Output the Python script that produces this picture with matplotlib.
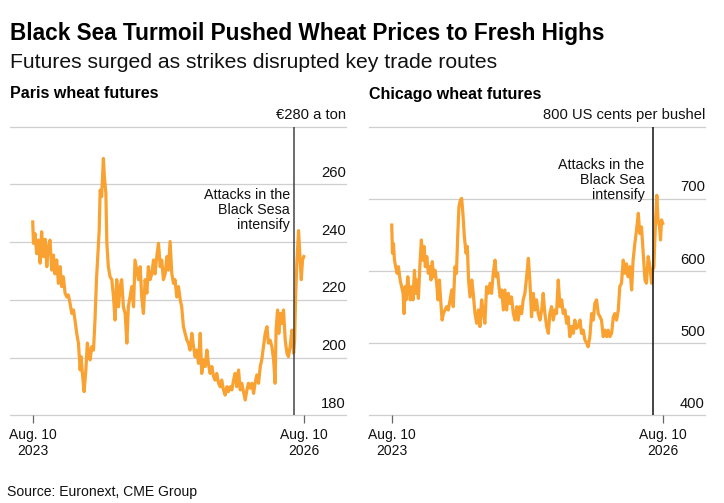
import matplotlib
matplotlib.use('Agg')
import matplotlib.pyplot as plt
import matplotlib.transforms as mtransforms
import pandas as pd

plt.rcParams['font.family'] = ['Liberation Sans', 'DejaVu Sans']

title = "Black Sea Turmoil Pushed Wheat Prices to Fresh Highs"
subtitle = "Futures surged as strikes disrupted key trade routes"
source = "Source: Euronext, CME Group"
start_date = "2023-08-10"
event_date = "2026-07-04"
tick_dates = ["2023-08-10", "2026-08-10"]
tick_labels = ["Aug. 10\n2023", "Aug. 10\n2026"]

paris_title = "Paris wheat futures"
paris_days = [0, 3, 9, 16, 23, 30, 36, 43, 50, 57, 63, 70, 77, 84, 90, 97, 104, 111, 117, 124,
              131, 138, 144, 151, 158, 165, 171, 178, 185, 192, 196, 201, 208, 215, 221, 227, 232,
              239, 246, 252, 258, 263, 269, 273, 279, 286, 290, 296, 300, 306, 313, 320, 327, 333,
              340, 347, 354, 360, 367, 374, 381, 387, 394, 401, 408, 414, 421, 428, 435, 441, 448,
              455, 462, 468, 475, 482, 489, 495, 502, 509, 516, 522, 529, 536, 543, 549, 556, 563,
              570, 576, 583, 590, 597, 603, 610, 617, 624, 630, 637, 644, 651, 657, 664, 671, 678,
              684, 691, 698, 705, 711, 718, 725, 732, 738, 745, 752, 759, 765, 772, 779, 786, 792,
              799, 806, 813, 819, 826, 833, 840, 846, 853, 860, 867, 873, 880, 887, 894, 900, 907,
              914, 921, 927, 934, 941, 948, 954, 961, 968, 975, 981, 985, 991, 996, 1002, 1008, 1015,
              1022, 1029, 1035, 1042, 1049, 1056, 1060, 1064, 1069, 1076, 1083, 1087, 1092, 1097]
paris_price = [247, 239.6, 243, 236, 240.7, 232.7, 243.6, 235, 241, 231.5, 238.4, 240.7, 230.3,
               235.5, 229, 233.8, 225.7, 231.5, 224.6, 228, 222.3, 221, 221.7, 218.8, 215.3, 216.5,
               213, 208.4, 205, 195.7, 200.3, 194.5, 188.2, 195.7, 205, 201.5, 199.2, 203.8, 202.6,
               213, 226.9, 235, 244, 258, 255.8, 269, 262.7, 257, 239.6, 231.5, 228, 227, 221, 213,
               227, 217.6, 224.6, 227, 217.6, 215.3, 205, 217.6, 221, 224.6, 217.6, 233.8, 230.3,
               227, 231.5, 221, 215.3, 227, 222.3, 231.5, 227, 229, 233.8, 229, 235, 239.6, 231.5,
               233.8, 227, 229, 235, 230.3, 240.2, 229, 225.7, 227, 221, 224.6, 220, 217.6, 210.7,
               208.4, 206, 205, 202.6, 208.4, 203.8, 200.3, 202.6, 198, 208.4, 194.5, 199.2, 196.9,
               202.6, 198, 194.5, 196.9, 193.4, 192.2, 194.5, 191.1, 189.9, 192.2, 188.8, 187,
               189.9, 188.2, 189.9, 188.8, 192.2, 194.5, 189.9, 195.7, 188.8, 191.1, 188.2, 185.3,
               188.8, 191.1, 189.4, 191.1, 187.6, 191.1, 194, 191.1, 196.9, 199.2, 203.8, 208.4,
               210.7, 205, 206, 203.8, 199.2, 191.1, 209.5, 216.5, 208.4, 215.3, 211.8, 216.5, 206,
               201.5, 200.3, 203.8, 209.5, 201.5, 206, 221, 232.7, 244, 232.7, 227, 233.8, 235]
paris_yticks = [180, 200, 220, 240, 260, 280]
paris_ylabels = ["180", "200", "220", "240", "260", "€280 a ton"]
paris_note = "Attacks in the\nBlack Sesa\nintensify"

chicago_title = "Chicago wheat futures"
chicago_days = [0, 3, 7, 11, 16, 22, 27, 34, 40, 46, 50, 54, 58, 65, 70, 75, 81, 86, 92, 97, 102,
                108, 115, 120, 125, 131, 136, 142, 148, 154, 159, 164, 170, 175, 182, 187, 193, 198,
                204, 209, 216, 222, 229, 236, 243, 249, 256, 262, 267, 272, 278, 283, 288, 294, 301,
                306, 311, 317, 324, 330, 337, 344, 351, 357, 364, 371, 377, 384, 391, 398, 404, 411,
                418, 423, 429, 434, 439, 445, 452, 458, 465, 472, 479, 485, 492, 499, 506, 512, 519,
                526, 532, 539, 546, 553, 559, 566, 573, 580, 586, 593, 600, 607, 613, 620, 627, 634,
                640, 647, 654, 661, 667, 674, 681, 688, 694, 701, 708, 714, 721, 728, 735, 741, 748,
                755, 762, 768, 775, 782, 789, 795, 802, 809, 816, 822, 829, 836, 843, 849, 856, 863,
                870, 876, 883, 890, 897, 903, 910, 917, 923, 930, 937, 944, 950, 957, 964, 971, 977,
                984, 991, 998, 1004, 1011, 1018, 1025, 1031, 1038, 1045, 1052, 1056, 1061, 1068,
                1073, 1078, 1084, 1088, 1092, 1097]
chicago_price = [663.7, 624.5, 638, 615, 606, 596.8, 606, 587.5, 578.3, 569, 541, 578.3, 560, 592,
                 573.7, 560, 578.3, 560, 601, 569, 587.5, 562, 615, 643, 615, 634, 606, 620, 596.8,
                 606, 587.5, 613, 592, 601, 583, 560, 587.5, 560, 532, 541, 546, 550.6, 546, 560,
                 573.7, 550.6, 606, 596.8, 647.6, 689, 698.4, 700.7, 680, 647.6, 624.5, 634, 587.5,
                 564, 587.5, 569, 541, 527.5, 546, 523, 560, 541, 527.5, 578.3, 569, 583, 569,
                 596.8, 615, 592, 596.8, 578.3, 564, 573.7, 546, 573.7, 546, 569, 555, 564, 541,
                 532, 550.6, 532, 550.6, 541, 560, 569, 592, 617.6, 587.5, 536.5, 569, 546, 560,
                 541, 532, 546, 569, 541, 523, 513.6, 541, 550.6, 532, 546, 541, 587.5, 550.6, 560,
                 541, 546, 527.5, 536.5, 509, 523, 513.6, 532, 520.5, 523, 532, 513.6, 518, 504.4,
                 500, 495, 509, 541, 532, 555, 560, 541, 536.5, 532, 509, 518, 509, 518, 509, 513.6,
                 536.5, 541, 532, 546, 578.3, 583, 615, 596.8, 610, 592, 606, 573.7, 615, 638, 657,
                 680, 652, 661, 624.5, 587.5, 583, 620, 606, 583, 601, 606, 670.7, 705, 670.7, 661,
                 643, 670.7, 666]
chicago_yticks = [400, 500, 600, 700, 800]
chicago_ylabels = ["400", "500", "600", "700", "800 US cents per bushel"]
chicago_note = "Attacks in the\nBlack Sea\nintensify"

LINE = '#F9A131'
GRID = '#cfcfcf'
W, H = 724, 503

fig = plt.figure(figsize=(W / 100, H / 100), dpi=100)
fig.patch.set_facecolor('white')

t0 = pd.Timestamp(start_date)
span = pd.Timestamp(tick_dates[1]) - t0
xmin = t0 - span * (92 / 1096)
xmax = pd.Timestamp(tick_dates[1]) + span * (172 / 1096)

panels = [
    (10, paris_title, paris_days, paris_price, paris_yticks, paris_ylabels, paris_note, 0.711, -3.2, '#444444'),
    (369, chicago_title, chicago_days, chicago_price, chicago_yticks, chicago_ylabels, chicago_note, 0.816, -6.5, '#111111'),
]

for left_px, ptitle, days, price, yticks, ylabels, note, note_y, note_dx, vcol in panels:
    ax = fig.add_axes([left_px / W, 1 - 415.3 / H, 336 / W, 288.6 / H])
    dates = t0 + pd.to_timedelta(days, unit='D')
    ax.plot(dates, price, color=LINE, lw=2.3, solid_joinstyle='round', zorder=3)
    ax.set_xlim(xmin, xmax)
    ax.set_ylim(yticks[0], yticks[-1])
    for s in ax.spines.values():
        s.set_visible(False)
    for v in yticks:
        ax.axhline(v, color=GRID, lw=0.9, zorder=1, clip_on=False)
    trans = mtransforms.blended_transform_factory(ax.transAxes, ax.transData)
    off = mtransforms.offset_copy(trans, fig=fig, x=0, y=5.4, units='points')
    for v, lab in zip(yticks, ylabels):
        ax.text(1.0, v, lab, transform=off, ha='right', va='baseline', fontsize=10.6, color='#111111')
    ax.set_yticks([])
    ax.set_xticks(pd.to_datetime(tick_dates))
    ax.set_xticklabels(tick_labels, fontsize=10, color='#111111', linespacing=1.15)
    ax.tick_params(axis='x', length=5.5, width=0.9, color='#666666', pad=4, direction='out')
    ev = pd.Timestamp(event_date)
    ax.axvline(ev, color=vcol, lw=1.1, zorder=4)
    ax.annotate(note, xy=(ev, note_y), xycoords=('data', 'axes fraction'),
                xytext=(note_dx, 0), textcoords='offset points',
                ha='right', va='center', fontsize=10.3, linespacing=1.1, color='#111111')
    fig.text(left_px / W, 1 - 94 / H, ptitle, ha='left', va='center', fontsize=11.5,
             fontweight='bold', color='#000000')

fig.text(10 / W, 1 - 33 / H, title, ha='left', va='center', fontsize=16.3, fontweight='bold', color='#000000')
fig.text(10 / W, 1 - 63 / H, subtitle, ha='left', va='center', fontsize=15.2, color='#111111')
fig.text(7 / W, 1 - 492 / H, source, ha='left', va='center', fontsize=10.1, color='#111111')

fig.savefig('out.png', dpi=100, facecolor='white')
